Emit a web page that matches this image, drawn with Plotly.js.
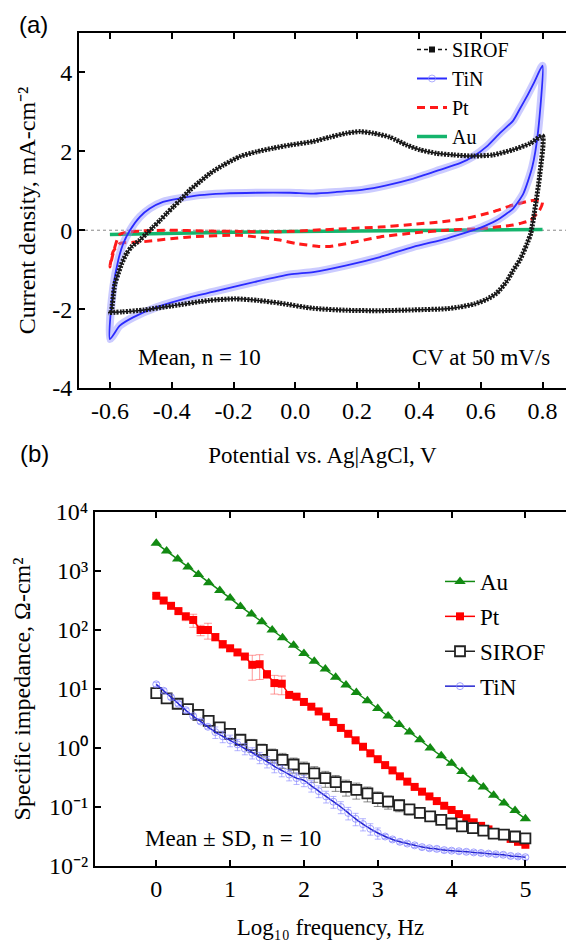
<!DOCTYPE html>
<html>
<head>
<meta charset="utf-8">
<script src="https://cdn.plot.ly/plotly-3.0.1.min.js"></script>
<style>html,body{margin:0;padding:0;background:#fff;overflow:hidden}#chart{width:566px;height:948px}</style>
</head>
<body>
<div id="chart"></div>
<script>
// ---------- Panel (a): cyclic voltammetry (V vs Ag|AgCl, mA/cm^2) ----------
const sirofAnodicV = [-0.595,-0.584,-0.573,-0.562,-0.546,-0.530,-0.503,-0.481,-0.460,-0.438,-0.417,-0.395,-0.373,-0.341,-0.309,-0.276,-0.233,-0.179,-0.125,-0.072,-0.017,0.058,0.112,0.166,0.209,0.252,0.306,0.360,0.403,0.457,0.511,0.576,0.640,0.705,0.760,0.800];
const sirofAnodicI = [-2.09,-1.36,-1.10,-0.85,-0.59,-0.42,-0.25,-0.08,0.08,0.25,0.42,0.59,0.76,1.02,1.23,1.44,1.65,1.87,1.99,2.08,2.16,2.25,2.36,2.46,2.50,2.46,2.36,2.16,2.04,1.95,1.91,1.88,1.91,2.04,2.20,2.39];
const sirofCathodicV = [0.791,0.779,0.762,0.750,0.727,0.705,0.684,0.651,0.620,0.580,0.530,0.490,0.382,0.274,0.166,0.058,-0.050,-0.120,-0.196,-0.280,-0.400,-0.489,-0.560,-0.606];
const sirofCathodicI = [1.40,0.72,-0.08,-0.34,-0.75,-1.02,-1.30,-1.60,-1.75,-1.87,-1.95,-1.99,-2.02,-2.04,-2.03,-1.98,-1.85,-1.78,-1.74,-1.78,-1.92,-2.02,-2.07,-2.09];

const tinAnodicV = [-0.600,-0.589,-0.573,-0.557,-0.535,-0.503,-0.471,-0.428,-0.373,-0.309,-0.233,-0.125,-0.017,0.058,0.134,0.220,0.295,0.382,0.468,0.533,0.576,0.619,0.662,0.705,0.727,0.750,0.773,0.800];
const tinAnodicI = [-2.76,-1.44,-0.76,-0.34,0.00,0.34,0.55,0.72,0.81,0.89,0.93,0.95,0.95,0.93,0.97,1.03,1.14,1.31,1.53,1.70,1.87,2.12,2.46,2.78,3.08,3.40,3.75,4.17];
const tinCathodicV = [0.785,0.767,0.738,0.705,0.680,0.651,0.598,0.576,0.490,0.382,0.274,0.166,0.058,-0.017,-0.125,-0.233,-0.341,-0.449,-0.525,-0.568,-0.600];
const tinCathodicI = [2.46,1.61,0.93,0.55,0.40,0.25,0.06,0.00,-0.21,-0.42,-0.68,-0.89,-1.06,-1.12,-1.30,-1.50,-1.70,-1.95,-2.21,-2.42,-2.76];

const ptAnodicV = [-0.600,-0.585,-0.567,-0.500,-0.400,-0.300,-0.179,-0.050,0.058,0.166,0.274,0.382,0.468,0.554,0.640,0.705,0.773,0.800];
const ptAnodicI = [-0.93,-0.45,-0.10,-0.02,0.00,-0.02,-0.03,-0.04,0.00,0.04,0.08,0.15,0.21,0.30,0.47,0.64,0.76,0.72];
const ptCathodicV = [0.790,0.760,0.727,0.705,0.597,0.490,0.382,0.274,0.166,0.112,0.080,0.004,-0.050,-0.179,-0.341,-0.503,-0.568,-0.590,-0.600];
const ptCathodicI = [0.50,0.25,0.17,0.13,0.04,0.00,-0.07,-0.17,-0.34,-0.41,-0.41,-0.34,-0.25,-0.13,-0.17,-0.30,-0.34,-0.55,-0.93];

const auV = [-0.6,-0.4,-0.2,0.0,0.2,0.4,0.6,0.8];
const auI = [-0.11,-0.07,-0.05,-0.03,-0.02,-0.02,-0.01,0.02];

const cvXTickVals = [-0.6,-0.4,-0.2,0.0,0.2,0.4,0.6,0.8];
const cvXTickText = ['-0.6','-0.4','-0.2','0.0','0.2','0.4','0.6','0.8'];
const cvYTickVals = [-4,-2,0,2,4];
const cvYTickText = ['-4','-2','0','2','4'];

// ---------- Panel (b): impedance spectra ----------
const logF7 = [0,0.14,0.29,0.43,0.57,0.71,0.86,1,1.14,1.29,1.43,1.57,1.71,1.86,2,2.14,2.29,2.43,2.57,2.71,2.86,3,3.14,3.29,3.43,3.57,3.71,3.86,4,4.14,4.29,4.43,4.57,4.71,4.86,5];
const logF10 = [0,0.1,0.2,0.3,0.4,0.5,0.6,0.7,0.8,0.9,1,1.1,1.2,1.3,1.4,1.5,1.6,1.7,1.8,1.9,2,2.1,2.2,2.3,2.4,2.5,2.6,2.7,2.8,2.9,3,3.1,3.2,3.3,3.4,3.5,3.6,3.7,3.8,3.9,4,4.1,4.2,4.3,4.4,4.5,4.6,4.7,4.8,4.9,5];

const zAu = [2950,2190,1590,1170,871,631,468,347,251,186,138,100,74.1,55.0,39.8,29.5,21.9,15.8,11.7,8.71,6.31,4.68,3.47,2.51,1.86,1.38,1.00,0.741,0.550,0.398,0.295,0.219,0.158,0.117,0.0871,0.0631];
const zPt = [380,316,257,209,170,148,100,100,75.9,57.5,49.0,41.7,35.5,25.7,26.3,17.8,12.6,12.3,7.94,7.41,6.03,5.01,4.17,3.39,2.75,2.19,1.74,1.35,1.05,0.813,0.646,0.513,0.417,0.331,0.269,0.219,0.182,0.151,0.126,0.105,0.0891,0.0759,0.0646,0.0550,0.0479,0.0417,0.0363,0.0324,0.0288,0.0257,0.0229];
const zPtSD = [19,16,21,17,26,37,20,30,11,8.6,4.9,4.2,3.6,11.6,11.8,2.7,4.4,4.3,0.8,0.74,0.3,0.25,0.2,0.17,0.14,0.11,0.09,0.07,0.05,0.04,0.03,0.026,0.021,0.017,0.013,0.011,0.009,0.008,0.006,0.005,0.004,0.004,0.003,0.003,0.002,0.002,0.002,0.002,0.001,0.001,0.001];
const zSirof = [8.51,6.92,5.62,4.57,3.63,2.88,2.24,1.74,1.38,1.12,0.933,0.759,0.631,0.525,0.447,0.372,0.309,0.263,0.219,0.195,0.170,0.141,0.123,0.107,0.0912,0.0794,0.0692,0.0603,0.0525,0.0468,0.0437,0.0398,0.0355,0.0339,0.0316,0.0295];
const zSirofSD = [0.85,0.69,0.56,0.46,0.36,0.29,0.22,0.26,0.21,0.28,0.23,0.20,0.18,0.15,0.13,0.11,0.093,0.079,0.066,0.059,0.048,0.039,0.031,0.024,0.018,0.014,0.010,0.0072,0.0053,0.0047,0.0035,0.0032,0.0021,0.002,0.0016,0.0015];
const zTin = [12.0,9.33,7.24,5.62,4.37,3.47,2.82,2.29,1.86,1.58,1.35,1.15,0.977,0.832,0.692,0.589,0.490,0.417,0.355,0.309,0.282,0.229,0.186,0.151,0.123,0.100,0.0794,0.0631,0.0513,0.0427,0.0363,0.0316,0.0282,0.0257,0.0240,0.0224,0.0209,0.0200,0.0195,0.0186,0.0182,0.0178,0.0174,0.0170,0.0166,0.0162,0.0158,0.0155,0.0148,0.0145,0.0141];
const zTinSD = [0.96,0.75,0.58,0.45,0.35,0.28,0.23,0.18,0.41,0.35,0.30,0.25,0.21,0.18,0.15,0.13,0.11,0.092,0.078,0.068,0.061,0.050,0.042,0.034,0.028,0.023,0.019,0.015,0.012,0.0094,0.0078,0.0025,0.0023,0.0021,0.0019,0.0018,0.0017,0.0016,0.0016,0.0015,0.0014,0.0014,0.0014,0.0013,0.0013,0.0013,0.0012,0.0012,0.0012,0.0012,0.0011];

const eisXTickVals = [0,1,2,3,4,5];
const eisXTickText = ['0','1','2','3','4','5'];
const eisYTickVals = [0.01,0.1,1,10,100,1000,10000];
const eisYTickText = ['10⁻²','10⁻¹','10⁰','10¹','10²','10³','10⁴'];

// ---------- build ----------
const W = 566, H = 948;
const SERIF = 'Liberation Serif, Times New Roman, serif';
const SANS = 'Liberation Sans, Arial, sans-serif';
const px2x = p => p / W;
const px2y = p => 1 - p / H;

const sirofV = sirofAnodicV.concat(sirofCathodicV), sirofI = sirofAnodicI.concat(sirofCathodicI);
const tinV = tinAnodicV.concat(tinCathodicV), tinI = tinAnodicI.concat(tinCathodicI);
const ptV = ptAnodicV.concat(ptCathodicV), ptI = ptAnodicI.concat(ptCathodicI);

function spl(o) { return Object.assign({shape:'spline', smoothing:0.6}, o); }
function tf(size) { return {family:SERIF, size:size, color:'#000'}; }

const traces = [
  // panel a
  {x:auV, y:auI, xaxis:'x', yaxis:'y', mode:'lines', showlegend:false, hoverinfo:'skip',
   line:{color:'#14b46c', width:3.5}},
  {x:ptV, y:ptI, xaxis:'x', yaxis:'y', mode:'lines', showlegend:false, hoverinfo:'skip',
   line:spl({color:'#ff1a1a', width:3, dash:'8px,5px'})},
  {x:tinV, y:tinI, xaxis:'x', yaxis:'y', mode:'lines', showlegend:false, hoverinfo:'skip',
   line:spl({color:'rgba(140,140,255,0.45)', width:8})},
  {x:tinV, y:tinI, xaxis:'x', yaxis:'y', mode:'lines', showlegend:false, hoverinfo:'skip',
   line:spl({color:'#2b2bff', width:1.8})},
  {x:sirofV, y:sirofI, xaxis:'x', yaxis:'y', mode:'lines', showlegend:false, hoverinfo:'skip',
   line:spl({color:'#111', width:1.5})},
  {x:sirofV, y:sirofI, xaxis:'x', yaxis:'y', mode:'lines', showlegend:false, hoverinfo:'skip',
   line:spl({color:'#1a1a1a', width:5, dash:'2px,1.3px'})},
  // legend entries for panel a
  {x:[null], y:[null], xaxis:'x', yaxis:'y', name:'SIROF', legend:'legend', legendrank:1, mode:'lines+markers',
   line:{color:'#111', width:1.5, dash:'4px,3px'}, marker:{symbol:'square', size:6, color:'#111'}},
  {x:[null], y:[null], xaxis:'x', yaxis:'y', name:'TiN', legend:'legend', legendrank:2, mode:'lines+markers',
   line:{color:'#2b2bff', width:2}, marker:{symbol:'circle-open', size:7, color:'rgba(140,140,255,0.7)'}},
  {x:[null], y:[null], xaxis:'x', yaxis:'y', name:'Pt', legend:'legend', legendrank:3, mode:'lines',
   line:{color:'#ff1a1a', width:3, dash:'8px,5px'}},
  {x:[null], y:[null], xaxis:'x', yaxis:'y', name:'Au', legend:'legend', legendrank:4, mode:'lines',
   line:{color:'#14b46c', width:3.5}},
  // panel b
  {x:logF7, y:zAu, xaxis:'x2', yaxis:'y2', name:'Au', legend:'legend2', legendrank:1, legendgroup:'au', mode:'lines+markers',
   line:{color:'#128a12', width:1.5}, marker:{symbol:'triangle-up', size:10, color:'#128a12'}},
  {x:logF10, y:zPt, xaxis:'x2', yaxis:'y2', name:'Pt', legend:'legend2', legendrank:2, legendgroup:'pt', mode:'lines+markers',
   error_y:{type:'data', array:zPtSD, color:'rgba(255,70,70,0.55)', thickness:1, width:4},
   line:{color:'#ff0000', width:1.5}, marker:{symbol:'square', size:8, color:'#ff0000'}},
  {x:logF7, y:zSirof, xaxis:'x2', yaxis:'y2', name:'SIROF', legend:'legend2', legendrank:3, legendgroup:'sirof', mode:'lines+markers',
   error_y:{type:'data', array:zSirofSD, color:'rgba(60,60,60,0.6)', thickness:1, width:4},
   line:{color:'#222', width:1.5}, marker:{symbol:'square', size:10, color:'#fff', line:{color:'#222', width:1.8}}},
  {x:logF10, y:zTin, xaxis:'x2', yaxis:'y2', name:'TiN', legend:'legend2', legendrank:4, legendgroup:'tin', mode:'lines+markers',
   error_y:{type:'data', array:zTinSD, color:'rgba(130,130,255,0.6)', thickness:1, width:3},
   line:{color:'#2424d0', width:1.5, shape:'spline', smoothing:0.8}, marker:{symbol:'circle-open', size:7, color:'rgba(130,130,255,0.75)'}}
];

function ax(extra) {
  return Object.assign({showline:true, linewidth:2, linecolor:'#000', ticks:'inside', ticklen:6, tickwidth:2,
    tickcolor:'#000', showgrid:false, zeroline:false, tickfont:tf(24)}, extra);
}

const layout = {
  width: W, height: H,
  margin: {l:0, r:0, t:0, b:0},
  paper_bgcolor:'#fff', plot_bgcolor:'#fff',
  font: {family:SERIF, size:22, color:'#000'},
  xaxis: ax({domain:[px2x(79),1], range:[-0.7,0.876], anchor:'y', mirror:'ticks',
    tickmode:'array', tickvals:cvXTickVals, ticktext:cvXTickText,
    title:{text:'Potential vs. Ag|AgCl, V', font:tf(23), standoff:24}}),
  yaxis: ax({domain:[px2y(388), px2y(33)], range:[-4,5], anchor:'x', mirror:false,
    tickmode:'array', tickvals:cvYTickVals, ticktext:cvYTickText,
    title:{text:'Current density, mA-cm⁻²', font:tf(24), standoff:10}}),
  xaxis2: ax({domain:[px2x(95),1], range:[-0.83,5.55], anchor:'y2', mirror:'ticks',
    tickmode:'array', tickvals:eisXTickVals, ticktext:eisXTickText,
    title:{text:'Log₁₀ frequency, Hz', font:tf(23), standoff:18}}),
  yaxis2: ax({domain:[px2y(866), px2y(512)], type:'log', range:[-2,4], anchor:'x2', mirror:false,
    tickmode:'array', tickvals:eisYTickVals, ticktext:eisYTickText,
    title:{text:'Specific impedance, Ω-cm²', font:tf(24), standoff:12}}),
  legend: {x:px2x(412), y:px2y(30), xanchor:'left', yanchor:'top', bgcolor:'rgba(0,0,0,0)',
    font:tf(20), traceorder:'normal'},
  legend2: {x:px2x(440), y:px2y(560), xanchor:'left', yanchor:'top', bgcolor:'rgba(0,0,0,0)',
    font:tf(23), traceorder:'grouped', tracegroupgap:2},
  shapes: [
    {type:'line', xref:'x domain', yref:'y', x0:0, x1:1, y0:0, y1:0, layer:'below',
     line:{color:'#888', width:1, dash:'dot'}}
  ],
  annotations: [
    {text:'(a)', xref:'paper', yref:'paper', x:px2x(33), y:px2y(25), showarrow:false, xanchor:'center', yanchor:'middle',
     font:{family:SANS, size:24, color:'#000'}},
    {text:'(b)', xref:'paper', yref:'paper', x:px2x(34), y:px2y(453), showarrow:false, xanchor:'center', yanchor:'middle',
     font:{family:SANS, size:24, color:'#000'}},
    {text:'Mean, n = 10', xref:'paper', yref:'paper', x:px2x(199), y:px2y(357), showarrow:false, xanchor:'center', yanchor:'middle',
     font:tf(23)},
    {text:'CV at 50 mV/s', xref:'paper', yref:'paper', x:px2x(481), y:px2y(357), showarrow:false, xanchor:'center', yanchor:'middle',
     font:tf(23)},
    {text:'Mean ± SD, n = 10', xref:'paper', yref:'paper', x:px2x(233), y:px2y(838), showarrow:false, xanchor:'center', yanchor:'middle',
     font:tf(23)}
  ],
  showlegend: true
};

Plotly.newPlot('chart', traces, layout, {staticPlot:true, displayModeBar:false});
</script>
</body>
</html>
